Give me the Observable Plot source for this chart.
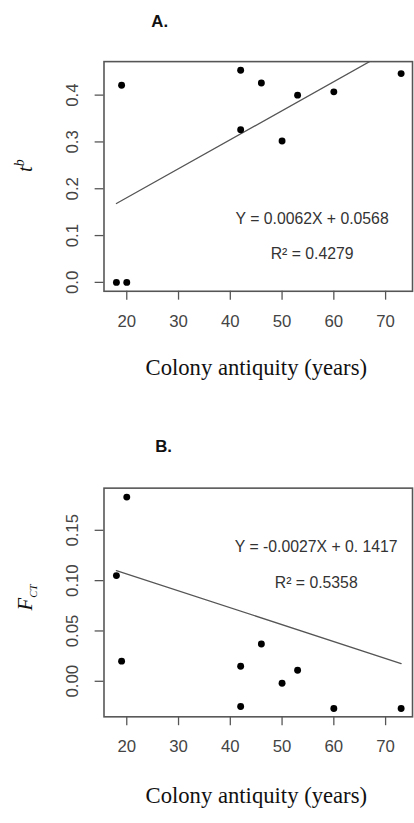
<!DOCTYPE html>
<html>
<head>
<meta charset="utf-8">
<script src="https://cdn.jsdelivr.net/npm/d3@7"></script>
<script src="https://cdn.jsdelivr.net/npm/@observablehq/plot@0.6"></script>
<style>
  html, body { margin: 0; padding: 0; background: white; }
  #wrap { width: 414px; height: 823px; overflow: hidden; }
  #wrap svg { display: block; }
</style>
</head>
<body>
<div id="wrap"></div>
<script>
// ---- Data ----
const xTicks = [20, 30, 40, 50, 60, 70];
const yTicksA = [0.0, 0.1, 0.2, 0.3, 0.4];
const yTicksB = [0.00, 0.05, 0.10, 0.15];

const antiquityA = [18, 20, 19, 42, 42, 46, 50, 53, 60, 73];
const tbA = [0.000, 0.000, 0.421, 0.453, 0.326, 0.426, 0.302, 0.400, 0.407, 0.446];

const antiquityB = [20, 18, 19, 42, 42, 46, 50, 53, 60, 73];
const fctB = [0.183, 0.105, 0.020, 0.015, -0.025, 0.037, -0.002, 0.011, -0.027, -0.027];

const fitAX = [18, 73];
const fitAY = [0.1684, 0.5094];
const fitBX = [18, 73];
const fitBY = [0.110, 0.0176];

const eqA = ["Y = 0.0062X + 0.0568", "R² = 0.4279"];
const eqB = ["Y = -0.0027X + 0. 1417", "R² = 0.5358"];
const panelTitles = ["A.", "B."];
const xTitle = "Colony antiquity (years)";
const yTitleA = "t^b";
const yTitleB = "F_CT";

// ---- Helpers ----
const SANS = "'Liberation Sans', Arial, sans-serif";
const SERIF = "'Liberation Serif', 'Times New Roman', serif";

function panel({xs, ys, fitX, fitY, yDomain, yTicks, yFmt, eq, eqPos, title, titleDx, titleDy,
                height, marginTop, marginBottom, yTitle, yTitleDy, xTitleDy}) {
  const pts = xs.map((x, i) => ({x, y: ys[i]}));
  const fit = fitX.map((x, i) => ({x, y: fitY[i]}));
  const svg = Plot.plot({
    width: 420,
    height,
    marginTop,
    marginBottom,
    marginLeft: 105,
    marginRight: 2,
    x: {domain: [15.6, 75.2]},
    y: {domain: yDomain},
    style: {background: "white", color: "#444", fontFamily: SANS, overflow: "visible"},
    marks: [
      Plot.axisX({ticks: xTicks, tickSize: 9, tickPadding: 15, fontSize: 17, label: null,
                  tickFormat: d => String(d), stroke: "#555", strokeWidth: 1.3, fill: "#444"}),
      Plot.axisY({ticks: yTicks, tickSize: 9, label: null, fill: "none", tickFormat: () => "",
                  stroke: "#555", strokeWidth: 1.3}),
      Plot.text(yTicks, {y: d => d, text: d => yFmt(d), frameAnchor: "left", dx: -32, rotate: -90,
                         textAnchor: "middle", lineAnchor: "middle", fontSize: 17, fill: "#444"}),
      Plot.frame({stroke: "#555", strokeWidth: 1.6}),
      Plot.line(fit, {x: "x", y: "y", stroke: "#555", strokeWidth: 1.3, clip: true}),
      Plot.dot(pts, {x: "x", y: "y", r: 3.5, fill: "black", stroke: "none"}),
      Plot.text([eq[0]], {x: eqPos[0], y: eqPos[1], text: d => d, fontSize: 16, fill: "#333"}),
      Plot.text([eq[1]], {x: eqPos[0], y: eqPos[2], text: d => d, fontSize: 16, fill: "#333"}),
      Plot.text([title], {text: d => d, frameAnchor: "top-left", dx: titleDx, dy: titleDy,
                          textAnchor: "start", lineAnchor: "middle", fontWeight: "bold",
                          fontSize: 17, fill: "#111"}),
      Plot.text([xTitle], {text: d => d, frameAnchor: "bottom", dx: -2, dy: xTitleDy,
                           lineAnchor: "middle", fontSize: 23, fontFamily: SERIF, fill: "#111"}),
      Plot.text([yTitle], {text: d => d, frameAnchor: "left", dx: -80, dy: yTitleDy, rotate: -90,
                           lineAnchor: "middle", textAnchor: "middle", fontSize: 21,
                           fontFamily: SERIF, fill: "#111"})
    ]
  });
  return svg;
}

const svgA = panel({
  xs: antiquityA, ys: tbA, fitX: fitAX, fitY: fitAY,
  yDomain: [-0.019, 0.4716], yTicks: yTicksA, yFmt: d3.format(".1f"),
  eq: eqA, eqPos: [55.8, 0.1354, 0.0604],
  title: panelTitles[0], titleDx: 48, titleDy: -41,
  height: 400, marginTop: 62, marginBottom: 105,
  yTitle: yTitleA, yTitleDy: -11, xTitleDy: 78
});
const svgB = panel({
  xs: antiquityB, ys: fctB, fitX: fitBX, fitY: fitBY,
  yDomain: [-0.0353, 0.1919], yTicks: yTicksB, yFmt: d3.format(".2f"),
  eq: eqB, eqPos: [56.6, 0.133, 0.098],
  title: panelTitles[1], titleDx: 52, titleDy: -42,
  height: 423, marginTop: 95, marginBottom: 96,
  yTitle: yTitleB, yTitleDy: -5, xTitleDy: 80
});

// Rich text for y-axis titles (superscript / subscript)
function richen(svg, key, parts) {
  d3.select(svg).selectAll("text").filter(function () { return this.textContent === key; })
    .each(function () {
      const t = d3.select(this);
      t.text(null);
      parts.forEach(p => {
        const s = t.append("tspan").text(p.text).attr("font-style", "italic");
        if (p.size) s.attr("font-size", p.size);
        if (p.dy) s.attr("dy", p.dy);
      });
    });
}
richen(svgA, yTitleA, [{text: "t"}, {text: "b", size: 14, dy: -8}]);
richen(svgB, yTitleB, [{text: "F"}, {text: "CT", size: 11, dy: 5}]);

document.getElementById("wrap").append(svgA, svgB);
</script>
</body>
</html>
